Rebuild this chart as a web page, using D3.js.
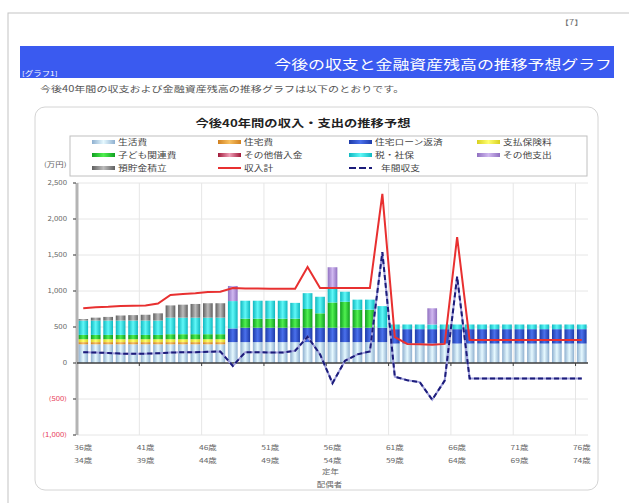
<!DOCTYPE html>
<html>
<head>
<meta charset="utf-8">
<script src="https://cdn.jsdelivr.net/npm/d3@7"></script>
<style>
  html, body { margin: 0; padding: 0; background: #fff; }
  svg { display: block; font-family: "Noto Sans CJK JP", "Noto Sans", sans-serif; }
</style>
</head>
<body>
<div id="chart"></div>
<script>
// 本人年齢 / 配偶者年齢
const ages = [36,37,38,39,40,41,42,43,44,45,46,47,48,49,50,51,52,53,54,55,56,57,58,59,60,61,62,63,64,65,66,67,68,69,70,71,72,73,74,75,76];
const spouseAges = [34,35,36,37,38,39,40,41,42,43,44,45,46,47,48,49,50,51,52,53,54,55,56,57,58,59,60,61,62,63,64,65,66,67,68,69,70,71,72,73,74];

// 支出（万円）
const living    = [260,260,260,260,260,260,260,260,260,260,260,260,290,290,290,290,290,290,290,290,290,290,290,290,290,270,270,270,270,270,270,270,270,270,270,270,270,270,270,270,270];
const housing   = [30,30,30,30,30,30,30,30,30,30,30,30,0,0,0,0,0,0,0,0,0,0,0,0,0,0,0,0,0,0,0,0,0,0,0,0,0,0,0,0,0];
const loan      = [0,0,0,0,0,0,0,0,0,0,0,0,190,200,200,200,200,200,200,200,200,200,200,200,200,200,200,200,200,200,200,200,200,200,200,200,200,200,200,200,200];
const insurance = [40,40,40,40,40,40,40,40,40,40,40,40,0,0,0,0,0,0,0,0,0,0,0,0,0,0,0,0,0,0,0,0,0,0,0,0,0,0,0,0,0];
const childCost = [60,60,60,60,60,60,60,70,70,70,70,70,0,125,125,125,125,125,260,200,350,360,250,250,0,0,0,0,0,0,0,0,0,0,0,0,0,0,0,0,0];
const otherDebt = [0,0,0,0,0,0,0,0,0,0,0,0,0,0,0,0,0,0,0,0,0,0,0,0,0,0,0,0,0,0,0,0,0,0,0,0,0,0,0,0,0];
const taxSocial = [200,200,200,200,200,200,200,230,230,230,230,230,380,250,250,250,250,220,220,230,200,140,140,140,300,65,65,65,65,65,65,65,65,65,65,65,65,65,65,65,65];
const otherExp  = [0,0,0,0,0,0,0,0,0,0,0,0,210,0,0,0,0,0,0,0,290,0,0,0,0,0,0,0,225,0,0,0,0,0,0,0,0,0,0,0,0];
const savings   = [20,40,50,70,75,80,100,170,180,190,200,200,0,0,0,0,0,0,0,0,0,0,0,0,0,0,0,0,0,0,0,0,0,0,0,0,0,0,0,0,0];

// 収入計 / 年間収支
const income  = [760,775,780,790,795,800,825,945,960,970,985,990,1040,1035,1035,1030,1030,1030,1333,1040,1040,1040,1040,1040,2350,360,265,260,255,265,1750,320,320,320,320,320,320,320,320,320,320];
const balance = [150,145,140,130,130,130,135,145,150,150,155,160,-40,150,150,145,145,170,365,120,-280,30,120,160,1540,-190,-240,-265,-510,-245,1200,-215,-215,-215,-215,-215,-215,-215,-215,-215,-215];

const yTicks = [2500, 2000, 1500, 1000, 500, 0, -500, -1000];

const seriesNames = ['生活費','住宅費','住宅ローン返済','支払保険料','子ども関連費','その他借入金','税・社保','その他支出','預貯金積立'];
const seriesData = [living, housing, loan, insurance, childCost, otherDebt, taxSocial, otherExp, savings];
const edgeColors = ['#8fb0d0','#d08020','#1d3aa8','#d8d020','#10a020','#a01838','#10b8c0','#9070c0','#606060'];
const midColors  = ['#e6f9ff','#f8c060','#4a70ec','#ffff70','#50f050','#f0a0b8','#60f8f8','#d0b8f0','#bcbcbc'];

const W = 629, H = 503;
const SX = 1.3; // 元画像は縦に潰れているので文字を横に伸ばす

const svg = d3.select('#chart').append('svg')
  .attr('width', W)
  .attr('height', H);

function label(x, y, str, size, opts = {}) {
  return svg.append('text')
    .attr('transform', `translate(${x},${y}) scale(${opts.sx || SX},1)`)
    .attr('text-anchor', opts.anchor || 'start')
    .style('font-size', size + 'px')
    .style('font-weight', opts.weight || 'normal')
    .attr('fill', opts.color || '#555')
    .text(str);
}

// ページ枠
svg.append('rect')
  .attr('x', 8).attr('y', 13)
  .attr('width', 640).attr('height', 520)
  .attr('fill', 'none')
  .attr('stroke', '#c4c4c4');

label(560, 25, '【7】', 7, { color: '#777' });

// 見出し帯
svg.append('rect')
  .attr('x', 20).attr('y', 46)
  .attr('width', 594).attr('height', 32)
  .attr('fill', '#3a5af0');
label(612, 69, '今後の収支と金融資産残高の推移予想グラフ', 13, { anchor: 'end', color: '#fff' });
label(22, 76, '[グラフ1]', 6.5, { color: '#fff' });

label(40, 92, '今後40年間の収支および金融資産残高の推移グラフは以下のとおりです。', 8.5, { color: '#555' });

// グラフ枠
svg.append('rect')
  .attr('x', 35).attr('y', 107)
  .attr('width', 563).attr('height', 383)
  .attr('rx', 10)
  .attr('fill', '#fff')
  .attr('stroke', '#d4d4d4');

label(303, 127, '今後40年間の収入・支出の推移予想', 10, { anchor: 'middle', color: '#222', weight: 'bold', sx: 1.33 });

// グラデーション
const defs = svg.append('defs');
seriesNames.forEach((name, i) => {
  const grad = defs.append('linearGradient')
    .attr('id', 'grad' + i)
    .attr('x1', 0).attr('x2', 1).attr('y1', 0).attr('y2', 0);
  grad.append('stop').attr('offset', '0%').attr('stop-color', edgeColors[i]);
  grad.append('stop').attr('offset', '50%').attr('stop-color', midColors[i]);
  grad.append('stop').attr('offset', '100%').attr('stop-color', edgeColors[i]);
});

// スケール
const x = d3.scaleBand()
  .domain(d3.range(ages.length))
  .range([77, 588])
  .paddingInner(0.22)
  .paddingOuter(0.11);
const y = d3.scaleLinear()
  .domain([-1000, 2500])
  .range([435, 183]);
const step = x.step();
const bw = x.bandwidth();
const cx = i => x(i) + bw / 2;

// 目盛線
svg.append('g')
  .selectAll('line')
  .data(yTicks)
  .enter().append('line')
  .attr('x1', 77).attr('x2', 588)
  .attr('y1', d => y(d)).attr('y2', d => y(d))
  .attr('stroke', '#e6e6e6');

const vGrid = ages.map((a, i) => i).filter(i => i > 0 && i % 5 === 0);
svg.append('g')
  .selectAll('line')
  .data(vGrid)
  .enter().append('line')
  .attr('x1', i => x(i) - (step - bw) / 2)
  .attr('x2', i => x(i) - (step - bw) / 2)
  .attr('y1', 183).attr('y2', 435)
  .attr('stroke', '#e6e6e6');

// 積み上げ棒
const rows = ages.map((a, i) => {
  const r = { i: i };
  seriesData.forEach((arr, k) => { r['s' + k] = arr[i]; });
  return r;
});
const stack = d3.stack().keys(seriesNames.map((n, k) => 's' + k));
const stacked = stack(rows);

svg.append('g')
  .selectAll('g')
  .data(stacked)
  .enter().append('g')
  .attr('fill', (d, k) => `url(#grad${k})`)
  .selectAll('rect')
  .data(d => d.filter(p => p[1] - p[0] > 0))
  .enter().append('rect')
  .attr('x', d => x(d.data.i))
  .attr('width', bw)
  .attr('y', d => y(d[1]))
  .attr('height', d => y(d[0]) - y(d[1]));

// Y軸
svg.append('line')
  .attr('x1', 77).attr('x2', 77)
  .attr('y1', 183).attr('y2', 435)
  .attr('stroke', '#b4b4b4')
  .attr('stroke-width', 3);
svg.append('g')
  .selectAll('line')
  .data(yTicks)
  .enter().append('line')
  .attr('x1', 73).attr('x2', 76)
  .attr('y1', d => y(d)).attr('y2', d => y(d))
  .attr('stroke', '#333');

yTicks.forEach(t => {
  const txt = t < 0 ? '(' + d3.format(',')(-t) + ')' : d3.format(',')(t);
  label(67, y(t) + 2, txt, 6, { anchor: 'end', color: t < 0 ? '#e8405a' : '#666' });
});
label(44, 167, '(万円)', 6.5, { color: '#666' });

// 0 の線
svg.append('line')
  .attr('x1', 77).attr('x2', 588)
  .attr('y1', y(0)).attr('y2', y(0))
  .attr('stroke', '#404040')
  .attr('stroke-width', 1.5);
svg.append('g')
  .selectAll('line')
  .data(vGrid)
  .enter().append('line')
  .attr('x1', i => x(i) - (step - bw) / 2)
  .attr('x2', i => x(i) - (step - bw) / 2)
  .attr('y1', y(0)).attr('y2', y(0) + 3)
  .attr('stroke', '#404040');

// 折れ線
const line = d3.line()
  .x((d, i) => cx(i))
  .y(d => y(d));

svg.append('path')
  .datum(income)
  .attr('d', line)
  .attr('fill', 'none')
  .attr('stroke', '#e83030')
  .attr('stroke-width', 2);

svg.append('path')
  .datum(balance)
  .attr('d', line)
  .attr('fill', 'none')
  .attr('stroke', '#a0a0dc')
  .attr('stroke-width', 2);
svg.append('path')
  .datum(balance)
  .attr('d', line)
  .attr('fill', 'none')
  .attr('stroke', '#1c1c7a')
  .attr('stroke-width', 2)
  .attr('stroke-dasharray', '5,3');

// X軸ラベル
ages.forEach((a, i) => {
  if (i % 5 !== 0) return;
  label(cx(i), 450, a + '歳', 6.5, { anchor: 'middle', color: '#666' });
  label(cx(i), 463, spouseAges[i] + '歳', 6.5, { anchor: 'middle', color: '#666' });
});
label(cx(20) - 2, 474, '定年', 6.5, { anchor: 'middle', color: '#666' });
label(cx(20) - 3, 487, '配偶者', 6.5, { anchor: 'middle', color: '#666' });

// 凡例
svg.append('rect')
  .attr('x', 70).attr('y', 136)
  .attr('width', 517).attr('height', 40)
  .attr('fill', 'none')
  .attr('stroke', '#c0c0c0');

const legendCols = [92, 218, 349, 477];
const legendRows = [142, 155, 168];
seriesNames.forEach((name, k) => {
  const lx = legendCols[k % 4];
  const ly = legendRows[Math.floor(k / 4)];
  svg.append('rect')
    .attr('x', lx).attr('y', ly - 2)
    .attr('width', 23).attr('height', 4)
    .attr('fill', `url(#grad${k})`);
  label(lx + 26, ly + 2.5, name, 7.5, { color: '#444' });
});
// 収入計
svg.append('line')
  .attr('x1', legendCols[1]).attr('x2', legendCols[1] + 23)
  .attr('y1', legendRows[2]).attr('y2', legendRows[2])
  .attr('stroke', '#e83030').attr('stroke-width', 2);
label(legendCols[1] + 26, legendRows[2] + 2.5, '収入計', 7.5, { color: '#444' });
// 年間収支
svg.append('line')
  .attr('x1', legendCols[2]).attr('x2', legendCols[2] + 23)
  .attr('y1', legendRows[2]).attr('y2', legendRows[2])
  .attr('stroke', '#1c1c7a').attr('stroke-width', 2)
  .attr('stroke-dasharray', '7,3');
label(legendCols[2] + 32, legendRows[2] + 2.5, '年間収支', 7.5, { color: '#444' });
</script>
</body>
</html>
